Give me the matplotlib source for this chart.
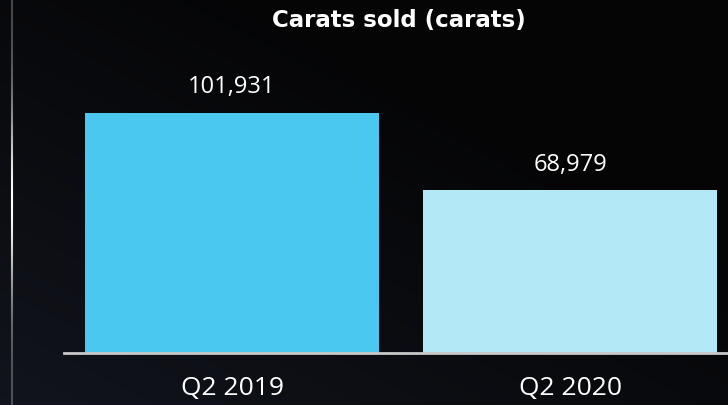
import matplotlib

matplotlib.use("Agg")
import matplotlib.pyplot as plt
import numpy as np
from matplotlib.collections import LineCollection

categories = ["Q2 2019", "Q2 2020"]
carats = [101931, 68979]
bar_colors = ["#4bc8ef", "#b3e8f7"]

W, H = 728, 405
fig = plt.figure(figsize=(W / 100, H / 100), dpi=100)

# background: dark navy in lower left fading to black at top right
bg = fig.add_axes([0, 0, 1, 1])
yy, xx = np.mgrid[0:1:200j, 0:1:360j]
shade = np.clip((1 - xx) * 0.6 + (1 - yy) * 0.65 - 0.4, 0, 1)
top = np.array([0.02, 0.02, 0.025])
bot = np.array([0.075, 0.09, 0.125])
img = top + shade[..., None] * (bot - top)
bg.imshow(img[::-1], extent=[0, 1, 0, 1], aspect="auto", origin="upper")
bg.set_xlim(0, 1)
bg.set_ylim(0, 1)
bg.axis("off")

# thin vertical accent line at left, bright in middle, fading at ends
ys = np.linspace(0, 1, 120)
segs = [[(12 / W, ys[i]), (12 / W, ys[i + 1])] for i in range(len(ys) - 1)]
mid = (ys[:-1] + ys[1:]) / 2
alpha = 0.25 + 0.75 * np.exp(-((mid - 0.5) / 0.22) ** 2)
lc = LineCollection(segs, colors=[(1, 1, 1, a) for a in alpha], linewidths=1.5)
bg.add_collection(lc)

# bar axes: baseline at y=352.5 px, top at figure top
x0, x1 = 64, 728
base = 352.5
ax = fig.add_axes([x0 / W, (H - base) / H, (x1 - x0) / W, base / H])
ax.set_facecolor("none")
pos = np.arange(len(categories))
bars = ax.bar(pos, carats, width=0.87, color=bar_colors, zorder=2)
ax.set_xlim(-0.497, 1.467)
ax.set_ylim(0, carats[0] * base / 240)

for b, v in zip(bars, carats):
    ax.text(b.get_x() + b.get_width() / 2, v + carats[0] * 25 / 240, f"{v:,}",
            ha="center", va="center", color="white", fontsize=17, family="Open Sans")

for s in ["top", "right", "left"]:
    ax.spines[s].set_visible(False)
ax.spines["bottom"].set_color("#c8c8c8")
ax.spines["bottom"].set_linewidth(2)
ax.spines["bottom"].set_zorder(3)
ax.set_yticks([])
ax.set_xticks(pos)
ax.set_xticklabels(categories, color="white", fontsize=19, family="Open Sans")
ax.tick_params(axis="x", length=0, pad=17)

fig.text(399 / W, 1 - 21 / H, "Carats sold (carats)", ha="center", va="center",
         color="white", fontsize=16.5, fontweight="bold", family="DejaVu Sans")

fig.savefig("out.png", dpi=100, facecolor="black")
